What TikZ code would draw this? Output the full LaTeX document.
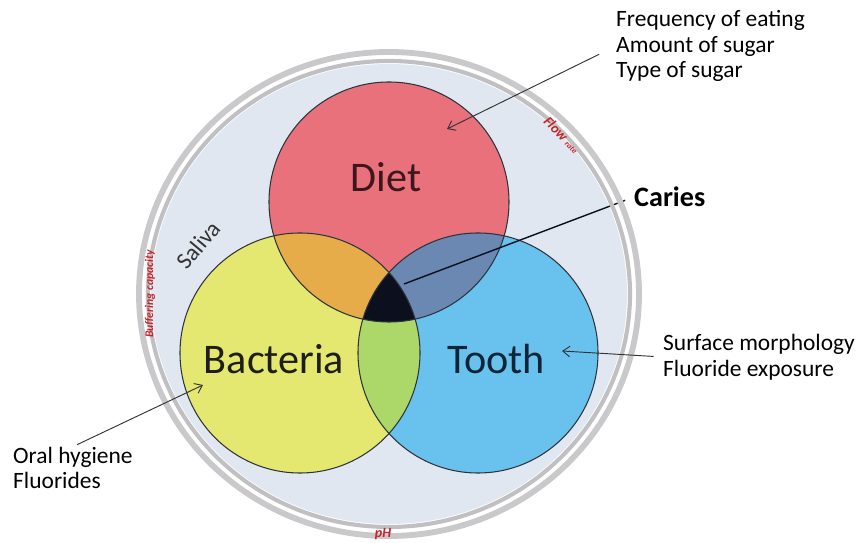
\documentclass[tikz,border=0pt]{standalone}
\usepackage{fontspec}
\setmainfont{Carlito}
\usetikzlibrary{arrows.meta}
\definecolor{salivafill}{RGB}{224,231,241}
\definecolor{ringgray}{RGB}{192,192,194}
\definecolor{dietred}{RGB}{232,113,123}
\definecolor{bactyellow}{RGB}{228,232,112}
\definecolor{toothblue}{RGB}{104,194,237}
\definecolor{dietbact}{RGB}{231,172,74}
\definecolor{diettooth}{RGB}{106,136,178}
\definecolor{bacttooth}{RGB}{172,216,106}
\definecolor{cariesblack}{RGB}{12,16,30}
\definecolor{edgeline}{RGB}{45,52,60}
\definecolor{salivared}{RGB}{200,36,44}
\definecolor{dietdark}{RGB}{62,22,30}
\definecolor{toothdark}{RGB}{16,36,56}
\definecolor{bactdark}{RGB}{30,30,22}
\tikzset{venn/.style={draw=edgeline,line width=0.9pt},
 pointer/.style={-{Straight Barb[length=6pt,width=9pt]},draw=black!80,line width=0.8pt},
 factor/.style={font=\fontsize{20}{22}\selectfont,align=left,anchor=west,inner sep=0pt},
 circlename/.style={font=\fontsize{36}{40}\selectfont},
 ringlabel/.style={text=salivared,font=\bfseries\itshape\fontsize{10}{11}\selectfont,inner sep=0pt}}

\begin{document}
\begin{tikzpicture}[x=0.03cm,y=-0.03cm]
\useasboundingbox (0,0) rectangle (857,543);
\coordinate (O) at (389,294);
\coordinate (dc) at (389,202);
\coordinate (bc) at (300,353);
\coordinate (tc) at (478,353);
\fill[salivafill] (O) ellipse[x radius=238,y radius=230];
\fill[dietred] (dc) circle[radius=120];
\fill[bactyellow] (bc) circle[radius=120];
\fill[toothblue] (tc) circle[radius=120];
\begin{scope}
\clip (dc) circle[radius=120];
\fill[dietbact] (bc) circle[radius=120];
\fill[diettooth] (tc) circle[radius=120];
\end{scope}
\begin{scope}
\clip (bc) circle[radius=120];
\fill[bacttooth] (tc) circle[radius=120];
\clip (tc) circle[radius=120];
\fill[cariesblack] (dc) circle[radius=120];
\end{scope}
\draw[venn] (dc) circle[radius=120];
\draw[venn] (bc) circle[radius=120];
\draw[venn] (tc) circle[radius=120];

\node[circlename,text=dietdark] (diettxt) at (386,177) {Diet};
\node[circlename,text=bactdark] (bacttxt) at (274,359) {Bacteria};
\node[circlename,text=toothdark] (toothtxt) at (496,359) {Tooth};
\node[font=\fontsize{20}{24}\selectfont,text=black!80,rotate=50] (salivatxt) at (198,245) {Saliva};

\node[factor] (foodtxt) at (616,46) {Frequency of eating\\Amount of sugar\\Type of sugar};
\node[factor] (surftxt) at (663,357) {Surface morphology\\Fluoride exposure};
\node[factor] (oraltxt) at (13,468) {Oral hygiene\\Fluorides};
\node[font=\bfseries\fontsize{24}{28}\selectfont,anchor=west,inner sep=0pt] (cariestxt) at (634,197) {Caries};

\coordinate (dietpt) at (447,129);
\coordinate (toothpt) at (562,351);
\coordinate (bactpt) at (203,385);
\coordinate (cariespt) at (404,284);
\draw[cariesblack,line width=1.2pt,shorten <=8pt] (cariestxt.west) -- (cariespt);

\draw[ringgray,line width=3.5pt] (O) ellipse[x radius=241,y radius=233];
\draw[ringgray!85,line width=5pt] (O) ellipse[x radius=250,y radius=242];

\node[ringlabel,rotate=90] (buffertxt) at (150,294) {Buffering capacity};
\node[ringlabel,rotate=-46] (flowtxt) at (562,135) {\fontsize{12}{13}\selectfont Flow {\fontsize{7}{8}\selectfont rate}};
\node[ringlabel,font=\bfseries\itshape\fontsize{12}{13}\selectfont] (phtxt) at (383,534) {pH};

\draw[pointer,shorten <=16pt] (foodtxt.west) -- (dietpt);
\draw[pointer,shorten <=8pt] (surftxt.west) -- (toothpt);
\draw[pointer,shorten <=4pt] (oraltxt.north) -- (bactpt);
\end{tikzpicture}
\end{document}
